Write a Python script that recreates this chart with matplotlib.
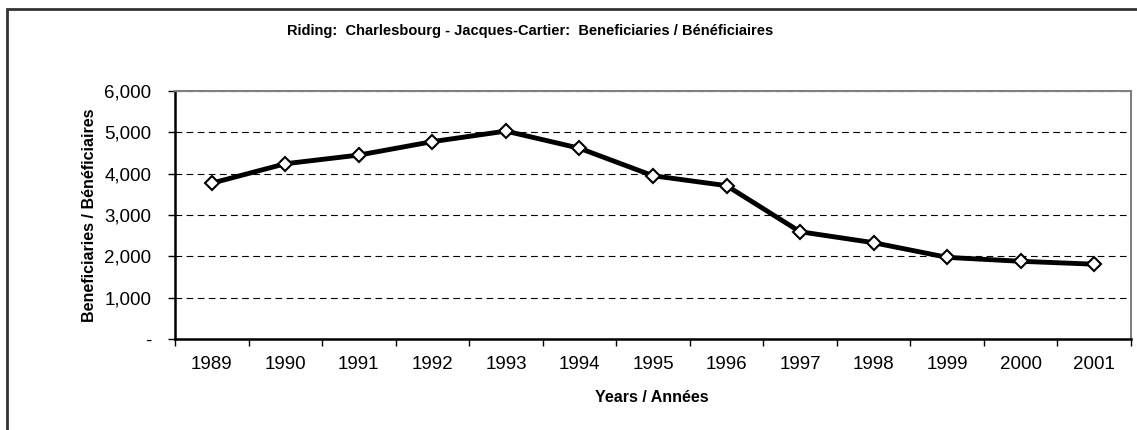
import numpy as np
import matplotlib
matplotlib.use('Agg')
import matplotlib.pyplot as plt
from matplotlib.patches import Rectangle
from matplotlib.ticker import FuncFormatter, FixedLocator

years = ['1989', '1990', '1991', '1992', '1993', '1994', '1995',
         '1996', '1997', '1998', '1999', '2000', '2001']
beneficiaries = [3770, 4240, 4450, 4775, 5030, 4615, 3950,
                 3710, 2595, 2330, 1975, 1880, 1810]

title = 'Riding:  Charlesbourg - Jacques-Cartier:  Beneficiaries / Bénéficiaires'
xlabel = 'Years / Années'
ylabel = 'Beneficiaries / Bénéficiaires'

narrow = ['Liberation Sans Narrow', 'Liberation Sans', 'DejaVu Sans']
plt.rcParams['font.family'] = ['Liberation Sans', 'DejaVu Sans']

fig = plt.figure(figsize=(11.37, 4.30), dpi=100)
W, H = 1137, 430
ax = fig.add_axes([175 / W, 1 - 339 / H, (1131 - 175) / W, (339 - 91) / H])

# outer chart border
fig.patches.append(Rectangle((7 / W, -0.1), 1.2, 1 - 9 / H + 0.1,
                             transform=fig.transFigure, fill=False,
                             edgecolor='#333333', linewidth=2))

x = np.arange(len(years))
ax.plot(x, beneficiaries, color='black', lw=3.5, marker='D', ms=7.5,
        mfc='white', mec='black', mew=1.5, zorder=3)

ax.set_xlim(-0.5, len(years) - 0.5)
ax.set_ylim(0, 6000)
ax.set_yticks(np.arange(0, 6001, 1000))
ax.yaxis.set_major_formatter(FuncFormatter(lambda v, p: '-' if v == 0 else f'{int(v):,}'))
ax.grid(axis='y', color='black', lw=0.8, linestyle=(0, (6, 4)))
ax.set_axisbelow(True)

ax.set_xticks(x)
ax.set_xticklabels(years)
ax.xaxis.set_minor_locator(FixedLocator(np.arange(-0.5, len(years), 1)))
ax.tick_params(axis='x', which='major', length=0, pad=12, labelsize=13.5)
ax.tick_params(axis='x', which='minor', length=5, width=1, direction='out')
ax.tick_params(axis='y', length=5, width=1, direction='out', pad=12, labelsize=13.5)

for s in ['left', 'bottom']:
    ax.spines[s].set_linewidth(1.8)
    ax.spines[s].set_color('black')
for s in ['top', 'right']:
    ax.spines[s].set_linewidth(1.5)
    ax.spines[s].set_color('#808080')

fig.text(530 / W, 1 - 31 / H, title, ha='center', va='center',
         fontsize=10.5, fontweight='bold', family=narrow)
fig.text(652 / W, 1 - 398 / H, xlabel, ha='center', va='center',
         fontsize=11.5, fontweight='bold', family=narrow)
fig.text(90 / W, 1 - 215 / H, ylabel, ha='center', va='center', rotation=90,
         fontsize=11.5, fontweight='bold', family=narrow)

fig.savefig('out.png', dpi=100)
